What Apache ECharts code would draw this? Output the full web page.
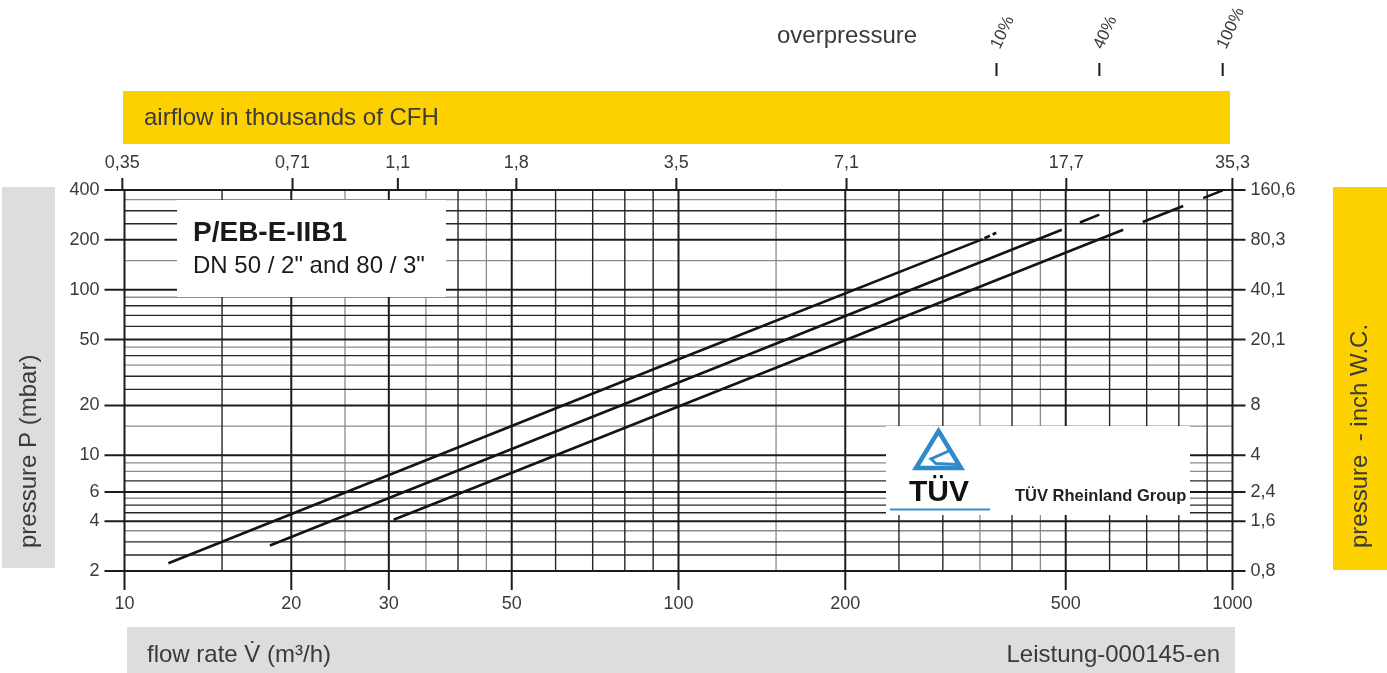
<!DOCTYPE html>
<html><head><meta charset="utf-8">
<script src="https://cdn.jsdelivr.net/npm/echarts@6/dist/echarts.min.js"></script>
<style>html,body{margin:0;padding:0;background:#fff}#c{width:1387px;height:673px}</style>
</head><body><div id="c"></div>
<script>
// ---------------- data ----------------
const xMajorTicks = [10, 20, 30, 50, 100, 200, 500, 1000];
const xMajorLabels = ['10', '20', '30', '50', '100', '200', '500', '1000'];
const xGridDark = [15, 40, 60, 70, 80, 90, 250, 300, 400, 600, 700, 800, 900];
const xGridGray = [25, 35, 45, 150, 350, 450];
const yMajorTicks = [2, 4, 6, 10, 20, 50, 100, 200, 400];
const yMajorLabels = ['2', '4', '6', '10', '20', '50', '100', '200', '400'];
const yInchLabels = ['0,8', '1,6', '2,4', '4', '8', '20,1', '40,1', '80,3', '160,6'];
const yGridDark = [2.5, 3, 4.5, 5, 7, 25, 30, 40, 60, 70, 80, 250, 300];
const yGridGray = [3.5, 5.5, 8, 9, 15, 35, 45, 90, 150, 350];
const cfhTicks = [0.35, 0.71, 1.1, 1.8, 3.5, 7.1, 17.7, 35.3];
const cfhLabels = ['0,35', '0,71', '1,1', '1,8', '3,5', '7,1', '17,7', '35,3'];
const overpressureFlow = [375, 575, 960];
const overpressureLabels = ['10%', '40%', '100%'];
// curves: [flow rate m3/h, pressure mbar]
const curve10Solid = [[12, 2.23], [100, 38], [354, 202]];
const curve10Dash = [[354, 202], [375, 221]];
const curve40Solid = [[18.3, 2.85], [100, 27.5], [492, 230]];
const curve40Dash = [[492, 230], [575, 284]];
const curve100Solid = [[30.6, 4.08], [100, 19.7], [635, 230]];
const curve100Dash = [[635, 230], [960, 398]];

// ---------------- setup ----------------
const X0 = 10, X1 = 1000, Y0 = 2, Y1 = 400;
const KCFH_PER_M3H = 0.0353147;
const FONT = '"Liberation Sans", Arial, Helvetica, sans-serif';
const LABEL_COLOR = '#3a3a3a';

const gridLines = [];
xGridGray.forEach(v => gridLines.push({dir: 'v', v, kind: 'gray'}));
yGridGray.forEach(v => gridLines.push({dir: 'h', v, kind: 'gray'}));
xGridDark.forEach(v => gridLines.push({dir: 'v', v, kind: 'dark'}));
yGridDark.forEach(v => gridLines.push({dir: 'h', v, kind: 'dark'}));
xMajorTicks.forEach((v, i) => gridLines.push({dir: 'v', v, kind: 'major', label: xMajorLabels[i]}));
yMajorTicks.forEach((v, i) => gridLines.push({dir: 'h', v, kind: 'major', label: yMajorLabels[i], label2: yInchLabels[i]}));

const styles = {
  major: {stroke: '#1c1c1c', lineWidth: 2},
  dark: {stroke: '#262626', lineWidth: 1.4},
  gray: {stroke: '#8c8c8c', lineWidth: 1.3}
};

function txt(x, y, text, align, size, extra) {
  return Object.assign({
    type: 'text', x: x, y: y,
    style: {text: text, font: size + 'px ' + FONT, fill: LABEL_COLOR,
      textAlign: align, align: align, textVerticalAlign: 'middle', verticalAlign: 'middle'}
  }, extra || {});
}

function renderGrid(params, api) {
  const g = gridLines[params.dataIndex];
  const st = styles[g.kind];
  const ch = [];
  if (g.dir === 'v') {
    const t = api.coord([g.v, Y1]);
    const b = api.coord([g.v, Y0]);
    const ext = g.kind === 'major' ? 19 : 0;
    ch.push({type: 'line', shape: {x1: t[0], y1: t[1], x2: b[0], y2: b[1] + ext}, style: {stroke: st.stroke, lineWidth: st.lineWidth}});
    if (g.label) ch.push(txt(b[0], b[1] + 33, g.label, 'center', 18));
  } else {
    const l = api.coord([X0, g.v]);
    const r = api.coord([X1, g.v]);
    const maj = g.kind === 'major';
    ch.push({type: 'line', shape: {x1: l[0] - (maj ? 20 : 0), y1: l[1], x2: r[0] + (maj ? 13 : 0), y2: r[1]}, style: {stroke: st.stroke, lineWidth: st.lineWidth}});
    if (g.label) ch.push(txt(l[0] - 25, l[1], g.label, 'right', 18));
    if (g.label2) ch.push(txt(r[0] + 18, r[1], g.label2, 'left', 18));
  }
  return {type: 'group', children: ch};
}

function renderCfh(params, api) {
  const p = api.coord([cfhTicks[params.dataIndex], Y1]);
  return {type: 'group', children: [
    {type: 'line', shape: {x1: p[0], y1: p[1] - 12, x2: p[0], y2: p[1]}, style: {stroke: '#1c1c1c', lineWidth: 2}},
    txt(p[0], p[1] - 26.5, cfhLabels[params.dataIndex], 'center', 18)
  ]};
}

function renderOver(params, api) {
  const p = api.coord([overpressureFlow[params.dataIndex], Y1]);
  return {type: 'group', children: [
    {type: 'line', shape: {x1: p[0], y1: p[1] - 127, x2: p[0], y2: p[1] - 114}, style: {stroke: '#1c1c1c', lineWidth: 2}},
    txt(p[0] - 1, p[1] - 142, overpressureLabels[params.dataIndex], 'left', 17, {rotation: 65 * Math.PI / 180})
  ]};
}

const curveStyle = {color: '#141414', width: 2.6};

const chart = echarts.init(document.getElementById('c'), null, {renderer: 'canvas', width: 1387, height: 673});
chart.setOption({
  animation: false,
  backgroundColor: '#ffffff',
  grid: {left: 124.5, right: 154.5, top: 190, bottom: 102, containLabel: false},
  xAxis: [
    {type: 'log', logBase: 10, min: X0, max: X1, show: false},
    {type: 'log', logBase: 10, min: X0 * KCFH_PER_M3H, max: X1 * KCFH_PER_M3H, show: false}
  ],
  yAxis: [{type: 'log', logBase: 10, min: Y0, max: Y1, show: false}],
  series: [
    {type: 'custom', silent: true, z: 1, xAxisIndex: 0, yAxisIndex: 0, clip: false,
      data: gridLines.map(g => g.dir === 'v' ? [g.v, Y0] : [X0, g.v]), renderItem: renderGrid},
    {type: 'custom', silent: true, z: 1, xAxisIndex: 1, yAxisIndex: 0, clip: false,
      data: cfhTicks.map(v => [v, Y1]), renderItem: renderCfh},
    {type: 'custom', silent: true, z: 1, xAxisIndex: 0, yAxisIndex: 0, clip: false,
      data: overpressureFlow.map(v => [v, Y1]), renderItem: renderOver},
    {type: 'line', data: curve10Solid, symbol: 'none', z: 5, silent: true, lineStyle: curveStyle},
    {type: 'line', data: curve10Dash, symbol: 'none', z: 5, silent: true, lineStyle: Object.assign({type: [0, 2, 6, 3, 4, 50]}, curveStyle)},
    {type: 'line', data: curve40Solid, symbol: 'none', z: 5, silent: true, lineStyle: curveStyle},
    {type: 'line', data: curve40Dash, symbol: 'none', z: 5, silent: true, lineStyle: Object.assign({type: [0, 19.5, 21, 100]}, curveStyle)},
    {type: 'line', data: curve100Solid, symbol: 'none', z: 5, silent: true, lineStyle: curveStyle},
    {type: 'line', data: curve100Dash, symbol: 'none', z: 5, silent: true, lineStyle: Object.assign({type: [0, 21, 43.5, 21.5, 21.6, 100]}, curveStyle)}
  ],
  graphic: {elements: [
    {type: 'rect', shape: {x: 123, y: 91, width: 1107, height: 53}, style: {fill: '#FDD000'}, z: 0},
    txt(144, 118, 'airflow in thousands of CFH', 'left', 24),
    txt(777, 36, 'overpressure', 'left', 24),
    {type: 'rect', shape: {x: 2, y: 187, width: 53, height: 381}, style: {fill: '#DCDDDE'}, z: 0},
    txt(29, 548, 'pressure P (mbar)', 'left', 24, {rotation: Math.PI / 2}),
    {type: 'rect', shape: {x: 1333, y: 187, width: 54, height: 383}, style: {fill: '#FDD000'}, z: 0},
    txt(1360, 548, 'pressure  - inch W.C.', 'left', 24, {rotation: Math.PI / 2}),
    {type: 'rect', shape: {x: 127, y: 627, width: 1108, height: 46}, style: {fill: '#DCDDDE'}, z: 0},
    txt(147, 655, 'flow rate V\u0307 (m\u00B3/h)', 'left', 24),
    txt(1220, 655, 'Leistung-000145-en', 'right', 24),
    // product box
    {type: 'rect', shape: {x: 177, y: 200, width: 269, height: 97}, style: {fill: '#ffffff'}, z: 50},
    {type: 'text', x: 193, y: 233.5, z: 51, style: {text: 'P/EB-E-IIB1', font: 'bold 28px ' + FONT, fill: '#1a1a1a', textAlign: 'left', align: 'left', textVerticalAlign: 'middle', verticalAlign: 'middle'}},
    {type: 'text', x: 193, y: 266.6, z: 51, style: {text: 'DN 50 / 2" and 80 / 3"', font: '24px ' + FONT, fill: '#1a1a1a', textAlign: 'left', align: 'left', textVerticalAlign: 'middle', verticalAlign: 'middle'}},
    // TUV box
    {type: 'rect', shape: {x: 886, y: 426, width: 304, height: 89}, style: {fill: '#ffffff'}, z: 50},
    {type: 'polygon', shape: {points: [[938.5, 431], [961, 468], [916, 468]]}, style: {fill: 'none', stroke: '#2F8AC9', lineWidth: 4.5, lineJoin: 'miter'}, z: 51},
    {type: 'polyline', shape: {points: [[951, 450], [931, 459], [936, 463.5], [958, 464.5]]}, style: {fill: 'none', stroke: '#2F8AC9', lineWidth: 3}, z: 51},
    {type: 'text', x: 939, y: 493, z: 51, style: {text: 'TÜV', font: 'bold 30px ' + FONT, fill: '#111', textAlign: 'center', align: 'center', textVerticalAlign: 'middle', verticalAlign: 'middle'}},
    {type: 'line', shape: {x1: 890, y1: 509.5, x2: 990, y2: 509.5}, style: {stroke: '#3C8DCB', lineWidth: 2}, z: 51},
    {type: 'text', x: 1015, y: 496, z: 51, style: {text: 'TÜV Rheinland Group', font: 'bold 16.5px ' + FONT, fill: '#222', textAlign: 'left', align: 'left', textVerticalAlign: 'middle', verticalAlign: 'middle'}}
  ]}
});
</script>
</body></html>
